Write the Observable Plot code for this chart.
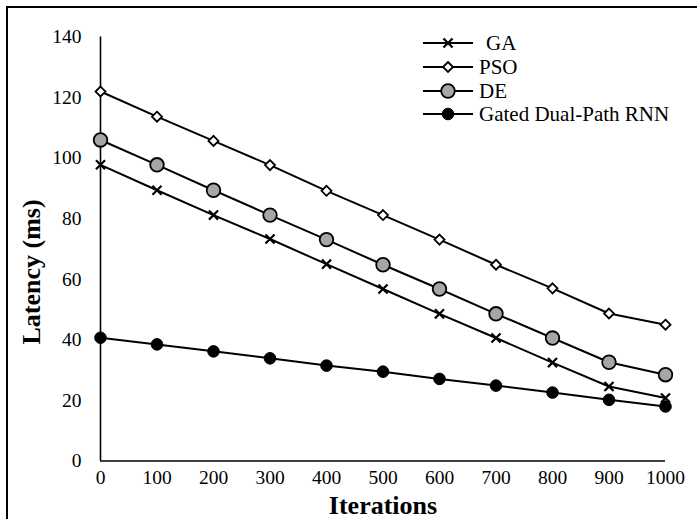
<!DOCTYPE html>
<html>
<head>
<meta charset="utf-8">
<script src="https://cdn.jsdelivr.net/npm/d3@7"></script>
<script src="https://cdn.jsdelivr.net/npm/@observablehq/plot@0.6"></script>
<style>
  html, body { margin: 0; padding: 0; background: #fff; }
  #wrap { position: relative; width: 697px; height: 519px; overflow: hidden; font-family: "Liberation Serif", "Times New Roman", serif; }
  #frame { position: absolute; left: 6px; top: 6px; width: 800px; height: 600px; border-top: 2px solid #000; border-left: 2px solid #000; pointer-events: none; }
  #legend { position: absolute; left: 0; top: 0; }
</style>
</head>
<body>
<div id="wrap"><div id="frame"></div></div>
<script>
const iterations = [0, 100, 200, 300, 400, 500, 600, 700, 800, 900, 1000];
const seriesNames = ["GA", "PSO", "DE", "Gated Dual-Path RNN"];
const gaValues  = [97.8, 89.4, 81.2, 73.3, 65.0, 56.8, 48.6, 40.6, 32.5, 24.6, 20.8];
const psoValues = [122.0, 113.7, 105.7, 97.7, 89.2, 81.2, 73.1, 64.8, 57.0, 48.7, 45.0];
const deValues  = [106.0, 97.8, 89.4, 81.2, 73.1, 64.8, 56.8, 48.6, 40.6, 32.6, 28.5];
const rnnValues = [40.7, 38.5, 36.2, 33.9, 31.5, 29.5, 27.1, 24.9, 22.6, 20.2, 18.0];
const xTicks = [0, 100, 200, 300, 400, 500, 600, 700, 800, 900, 1000];
const yTicks = [0, 20, 40, 60, 80, 100, 120, 140];

const styles = {
  "GA": {symbol: "times", r: 4.2, fill: "none", stroke: "#000", strokeWidth: 2.2},
  "PSO": {symbol: "diamond2", r: 4.5, fill: "#fff", stroke: "#000", strokeWidth: 1.8},
  "DE": {symbol: "circle", r: 6.8, fill: "#a6a6a6", stroke: "#000", strokeWidth: 1.8},
  "Gated Dual-Path RNN": {symbol: "circle", r: 5.8, fill: "#000", stroke: "#000", strokeWidth: 1}
};
const valuesBy = {"GA": gaValues, "PSO": psoValues, "DE": deValues, "Gated Dual-Path RNN": rnnValues};
const rows = seriesNames.map(name => iterations.map((x, i) => ({name, x, y: valuesBy[name][i]})));

const font = "Liberation Serif, Times New Roman, serif";
const marks = [
  Plot.ruleX([0], {y1: 0, y2: 140, stroke: "#000", strokeWidth: 1.6}),
  Plot.ruleY([0], {x1: 0, x2: 1000, stroke: "#000", strokeWidth: 1.6}),
  Plot.axisX({ticks: xTicks, tickSize: 0, tickPadding: 9, fontSize: 19.5, label: null, tickFormat: d => String(d)}),
  Plot.axisY({ticks: yTicks, tickSize: 0, tickPadding: 19, fontSize: 19.5, label: null}),
  Plot.text(["Iterations"], {frameAnchor: "bottom", dy: 53, textAnchor: "middle", lineAnchor: "bottom", fontSize: 26, fontWeight: "bold", fontFamily: font, fill: "#000"}),
  Plot.text(["Latency (ms)"], {frameAnchor: "left", dx: -69, dy: 23, textAnchor: "middle", lineAnchor: "middle", rotate: -90, fontSize: 26, fontWeight: "bold", fontFamily: font, fill: "#000"})
];
rows.forEach(data => {
  marks.push(Plot.line(data, {x: "x", y: "y", stroke: "#000", strokeWidth: 2}));
});
rows.forEach(data => {
  const s = styles[data[0].name];
  marks.push(Plot.dot(data, {x: "x", y: "y", symbol: () => s.symbol, r: s.r, fill: s.fill, stroke: s.stroke, strokeWidth: s.strokeWidth}));
});

const chart = Plot.plot({
  width: 697,
  height: 519,
  marginLeft: 100,
  marginRight: 32,
  marginTop: 36.5,
  marginBottom: 58.5,
  style: {fontFamily: font, fontSize: "19px", color: "#000", background: "transparent", overflow: "visible"},
  x: {domain: [0, 1000]},
  y: {domain: [0, 140]},
  marks
});
document.getElementById("wrap").prepend(chart);

// legend
const lg = d3.select("#wrap").append("svg").attr("id", "legend").attr("width", 697).attr("height", 519);
const rowY = [43, 67, 91, 114];
const symMap = {times: d3.symbolTimes, diamond2: d3.symbolDiamond2, circle: d3.symbolCircle};
seriesNames.forEach((name, i) => {
  const s = styles[name];
  const g = lg.append("g").attr("transform", `translate(0,${rowY[i]})`);
  g.append("line").attr("x1", 423).attr("x2", 473).attr("stroke", "#000").attr("stroke-width", 2);
  g.append("path").attr("transform", "translate(448,0)")
    .attr("d", d3.symbol(symMap[s.symbol], Math.PI * s.r * s.r)())
    .attr("fill", s.fill).attr("stroke", s.stroke).attr("stroke-width", s.strokeWidth);
  g.append("text").attr("x", name === "GA" ? 486 : 479).attr("dy", "0.35em")
    .attr("font-family", font).attr("font-size", 21).attr("fill", "#000").text(name);
});
</script>
</body>
</html>
